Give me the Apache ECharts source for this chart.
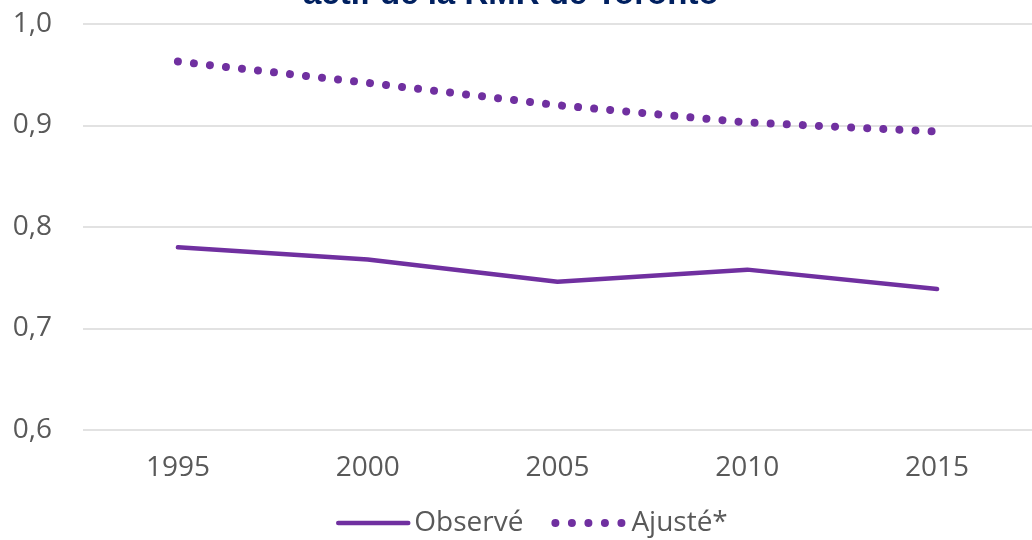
<!DOCTYPE html>
<html>
<head>
<meta charset="utf-8">
<script src="https://cdn.jsdelivr.net/npm/echarts@6/dist/echarts.min.js"></script>
<style>
  html, body { margin: 0; padding: 0; background: #fff; }
  #chart { width: 1032px; height: 540px; }
</style>
</head>
<body>
<div id="chart"></div>
<script>
var years = ["1995", "2000", "2005", "2010", "2015"];
var observe = [0.780, 0.768, 0.746, 0.758, 0.739];
var ajuste = [0.963, 0.942, 0.920, 0.903, 0.894];
var purple = "#7030A0";
var grey = "#595959";

var chart = echarts.init(document.getElementById("chart"));
var option = {
  animation: false,
  title: {
    text: "actif de la RMR de Toronto",
    left: 298,
    top: -27,
    textStyle: {
      fontFamily: "Liberation Sans",
      fontWeight: "bold",
      fontSize: 33,
      color: "#002060"
    }
  },
  legend: {
    bottom: -2,
    left: 331,
    itemWidth: 70,
    itemHeight: 10,
    itemGap: 28,
    itemStyle: { opacity: 0 },
    textStyle: { fontFamily: "Open Sans", fontSize: 28, color: grey, padding: [0, 0, 0, 1] },
    data: [
      { name: "Observé", lineStyle: { width: 4.5, type: "solid", cap: "round" } },
      { name: "Ajusté*", lineStyle: { width: 8, type: [0.01, 16.5], cap: "round" } }
    ]
  },
  grid: { left: 83, right: -3, top: 24, bottom: 110 },
  xAxis: {
    type: "category",
    data: years,
    boundaryGap: true,
    axisLine: { show: false },
    axisTick: { show: false },
    axisLabel: { fontFamily: "Open Sans", fontSize: 28, color: grey, margin: 24 }
  },
  yAxis: {
    type: "value",
    min: 0.6,
    max: 1.0,
    interval: 0.1,
    axisLine: { show: false },
    axisTick: { show: false },
    splitLine: { lineStyle: { color: "#d9d9d9", width: 1.5 } },
    axisLabel: {
      fontFamily: "Open Sans", fontSize: 28, color: grey, margin: 31,
      formatter: function (v) { return v.toFixed(1).replace(".", ","); }
    }
  },
  series: [
    {
      name: "Observé",
      type: "line",
      data: observe,
      symbol: "none",
      itemStyle: { color: purple },
      lineStyle: { color: purple, width: 4.5, cap: "round" }
    },
    {
      name: "Ajusté*",
      type: "line",
      data: ajuste,
      symbol: "none",
      itemStyle: { color: purple },
      lineStyle: { color: purple, width: 8, type: [0.01, 16.1], cap: "round" }
    }
  ]
};
chart.setOption(option);
</script>
</body>
</html>
